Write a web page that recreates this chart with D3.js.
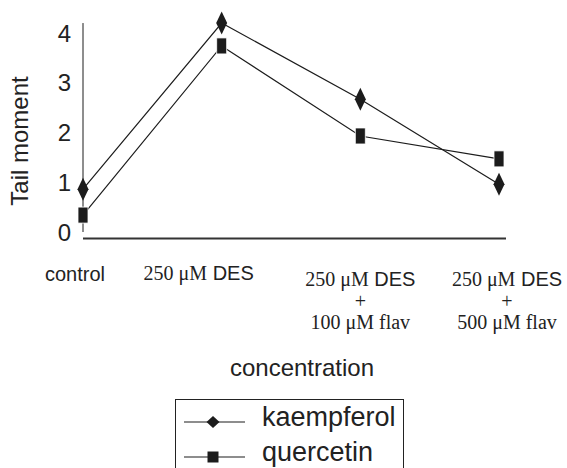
<!DOCTYPE html>
<html lang="en">
<head>
<meta charset="UTF-8">
<title>Tail moment</title>
<style>
  body { margin: 0; background: #fff; }
  text { fill: #222; }
  .sans { font-family: "Liberation Sans", Arial, sans-serif; }
  .serif { font-family: "Liberation Serif", "Times New Roman", serif; }
</style>
</head>
<body>
<svg width="567" height="468"></svg>
<script src="https://cdnjs.cloudflare.com/ajax/libs/d3/7.8.5/d3.min.js"></script>
<script>

var categories = ['control', 'DES', 'DES+100', 'DES+500'];
var kaempferol = [0.86, 4.2, 2.67, 0.96];
var quercetin = [0.34, 3.74, 1.93, 1.47];
var yTicks = [0, 1, 2, 3, 4];

var seriesNames = ['kaempferol', 'quercetin'];

// label text, split in lines; each line is a list of [text, font] parts
var catLabels = [
  [[['control', 'sans']]],
  [[['250 \u03bcM', 'serif'], [' DES', 'sans']]],
  [[['250 \u03bcM', 'serif'], [' DES', 'sans']], [['+', 'serif']], [['100 \u03bcM flav', 'serif']]],
  [[['250 \u03bcM', 'serif'], [' DES', 'sans']], [['+', 'serif']], [['500 \u03bcM flav', 'serif']]]
];

var svg = d3.select('svg');

var x = d3.scalePoint().domain(categories).range([83, 499]);
var y = d3.scaleLinear().domain([0, 4]).range([232, 33]);

var lineColor = '#1c1c1c';

// y axis: line only, big labels
svg.append('line')
  .attr('x1', 83).attr('x2', 83)
  .attr('y1', y(4.2)).attr('y2', y(0))
  .attr('stroke', lineColor).attr('stroke-width', 1);

svg.selectAll('.ytick')
  .data(yTicks)
  .enter()
  .append('text')
  .attr('class', 'ytick sans')
  .attr('x', 71)
  .attr('y', function(d) { return y(d); })
  .attr('dy', '0.36em')
  .attr('text-anchor', 'end')
  .attr('font-size', 24)
  .text(function(d) { return d; });

// x axis sits a little under zero
svg.append('line')
  .attr('x1', 83).attr('x2', 506)
  .attr('y1', 238.5).attr('y2', 238.5)
  .attr('stroke', '#333').attr('stroke-width', 2);

svg.append('text')
  .attr('class', 'sans')
  .attr('transform', 'translate(28,141) rotate(-90)')
  .attr('text-anchor', 'middle')
  .attr('font-size', 24)
  .text('Tail moment');

// category labels
var labelShift = [-8, -23, 0, 8];
var lineY = [[281], [280], [286, 308, 329], [286, 308, 329]];

catLabels.forEach(function(lines, i) {
  lines.forEach(function(parts, j) {
    var t = svg.append('text')
      .attr('x', x(categories[i]) + labelShift[i])
      .attr('y', lineY[i][j])
      .attr('text-anchor', 'middle')
      .attr('font-size', 20);
    parts.forEach(function(p) {
      t.append('tspan').attr('class', p[1]).text(p[0]);
    });
  });
});

svg.append('text')
  .attr('class', 'sans')
  .attr('x', 302)
  .attr('y', 376)
  .attr('text-anchor', 'middle')
  .attr('font-size', 24)
  .text('concentration');

// markers
var diamond = function(w, h) {
  return 'M0,' + (-h / 2) + 'L' + (w / 2) + ',0L0,' + (h / 2) + 'L' + (-w / 2) + ',0Z';
};
var rect = function(w, h) {
  return 'M' + (-w / 2) + ',' + (-h / 2) + 'h' + w + 'v' + h + 'h' + (-w) + 'Z';
};

var line = d3.line()
  .x(function(d, i) { return x(categories[i]); })
  .y(function(d) { return y(d); });

[kaempferol, quercetin].forEach(function(vals) {
  svg.append('path')
    .attr('d', line(vals))
    .attr('fill', 'none')
    .attr('stroke', lineColor)
    .attr('stroke-width', 1.2);
});

svg.selectAll('.kd')
  .data(kaempferol)
  .enter()
  .append('path')
  .attr('class', 'kd')
  .attr('transform', function(d, i) { return 'translate(' + x(categories[i]) + ',' + y(d) + ')'; })
  .attr('d', diamond(11, 23))
  .attr('fill', lineColor);

svg.selectAll('.qs')
  .data(quercetin)
  .enter()
  .append('path')
  .attr('class', 'qs')
  .attr('transform', function(d, i) { return 'translate(' + x(categories[i]) + ',' + y(d) + ')'; })
  .attr('d', rect(10, 16))
  .attr('fill', lineColor)
  .attr('stroke', '#fff')
  .attr('stroke-width', 0.8);

// legend
var legend = svg.append('g').attr('transform', 'translate(175,399)');

legend.append('rect')
  .attr('x', 0.5).attr('y', 0.5)
  .attr('width', 228).attr('height', 90)
  .attr('fill', 'none')
  .attr('stroke', '#222').attr('stroke-width', 1);

var rowY = [23, 58];
seriesNames.forEach(function(name, i) {
  var row = legend.append('g').attr('transform', 'translate(0,' + rowY[i] + ')');
  row.append('line')
    .attr('x1', 9).attr('x2', 70)
    .attr('stroke', lineColor).attr('stroke-width', 1.2);
  row.append('path')
    .attr('transform', 'translate(38,0)')
    .attr('d', i === 0 ? diamond(13, 12) : rect(11, 11))
    .attr('fill', lineColor);
  row.append('text')
    .attr('class', 'sans')
    .attr('x', 87)
    .attr('y', 0)
    .attr('dy', '0.15em')
    .attr('font-size', 27)
    .text(name);
});

</script>
</body>
</html>
